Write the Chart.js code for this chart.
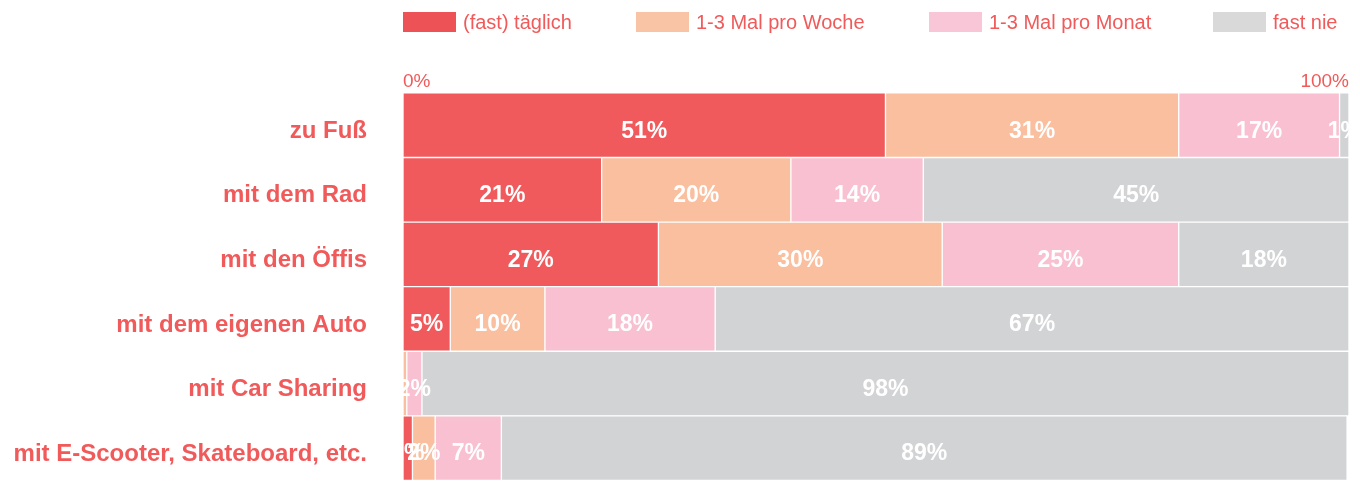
<!DOCTYPE html>
<html>
<head>
<meta charset="utf-8">
<script src="https://cdn.jsdelivr.net/npm/chart.js@4.4.1/dist/chart.umd.min.js"></script>
<style>
  html, body { margin: 0; padding: 0; background: #fff; overflow: hidden; }
  #wrap { position: relative; width: 1360px; height: 481px; }
  #chart { position: absolute; left: 0; top: 0; display: block; width: 1360px; height: 481px; }
  #legend { position: absolute; top: 12px; left: 0; width: 1360px; height: 22px; font-family: "Liberation Sans", Arial, sans-serif; font-size: 20px; color: #f05a5a; z-index: 2; }
  .item { position: absolute; top: 0; display: flex; align-items: center; height: 20px; white-space: nowrap; }
  .box { width: 53px; height: 20px; margin-right: 7px; }
</style>
</head>
<body>
<div id="wrap">
  <canvas id="chart" width="1360" height="481"></canvas>
  <div id="legend"></div>
</div>
<script>
const categories = ['zu Fuß', 'mit dem Rad', 'mit den Öffis', 'mit dem eigenen Auto', 'mit Car Sharing', 'mit E-Scooter, Skateboard, etc.'];
const seriesNames = ['(fast) täglich', '1-3 Mal pro Woche', '1-3 Mal pro Monat', 'fast nie'];
const taeglich = [51, 21, 27, 5, 0, 1];
const woche = [31, 20, 30, 10, 0.4, 2.4];
const monat = [17, 14, 25, 18, 1.6, 7];
const fastNie = [1, 45, 18, 67, 98, 89.4];
const xTicks = [0, 100];

const colors = ['#f05a5c', '#f9bf9f', '#f8c0d0', '#d2d3d5'];
const legendColors = ['#ec5256', '#f9c4a5', '#f8c6d6', '#d9d9d9'];
const legendLeft = [403, 636, 929, 1213];
const textRed = '#f05a5a';

// Legende als HTML
const leg = document.getElementById('legend');
seriesNames.forEach((n, i) => {
  const it = document.createElement('div');
  it.className = 'item';
  it.style.left = legendLeft[i] + 'px';
  it.innerHTML = `<div class="box" style="background:${legendColors[i]}"></div><span>${n}</span>`;
  leg.appendChild(it);
});

// Prozentwerte in die Balken schreiben
const barLabels = {
  id: 'barLabels',
  afterDatasetsDraw(chart) {
    const { ctx, chartArea } = chart;
    ctx.save();
    ctx.beginPath();
    ctx.rect(chartArea.left, chartArea.top, chartArea.right - chartArea.left, chartArea.bottom - chartArea.top);
    ctx.clip();
    ctx.fillStyle = '#fff';
    ctx.font = 'bold 23px "Liberation Sans", Arial, sans-serif';
    ctx.textAlign = 'center';
    ctx.textBaseline = 'middle';
    chart.data.datasets.forEach((ds, di) => {
      chart.getDatasetMeta(di).data.forEach((bar, i) => {
        const v = ds.data[i];
        if (Math.round(v) < 1) return;
        const p = bar.getCenterPoint();
        ctx.fillText(Math.round(v) + '%', p.x, p.y + 6);
      });
    });
    ctx.restore();
  }
};

const seriesData = [taeglich, woche, monat, fastNie];

new Chart(document.getElementById('chart'), {
  type: 'bar',
  data: {
    labels: categories,
    datasets: seriesData.map((d, i) => ({
      label: seriesNames[i],
      data: d,
      backgroundColor: colors[i],
      borderColor: '#fff',
      borderWidth: 1,
      borderSkipped: false,
      barPercentage: 1,
      categoryPercentage: 1
    }))
  },
  options: {
    indexAxis: 'y',
    responsive: false,
    maintainAspectRatio: false,
    animation: false,
    layout: { padding: { top: 70, right: 11, bottom: 0, left: 0 } },
    plugins: { legend: { display: false }, tooltip: { enabled: false } },
    scales: {
      x: {
        stacked: true,
        position: 'top',
        min: 0,
        max: 100,
        afterBuildTicks: s => { s.ticks = xTicks.map(v => ({ value: v })); },
        grid: { display: false, drawTicks: false },
        border: { display: false },
        ticks: {
          align: 'inner',
          padding: 11,
          color: textRed,
          font: { family: '"Liberation Sans", Arial, sans-serif', size: 19, lineHeight: 0.05 },
          callback: v => v + '%'
        }
      },
      y: {
        stacked: true,
        // unsichtbare Ticks als Abstand, damit unten kein Platz verloren geht
        grid: { display: true, drawOnChartArea: false, drawTicks: true, tickLength: 36, color: 'rgba(0,0,0,0)' },
        border: { display: false },
        afterFit: s => { s.width = 403; },
        ticks: {
          padding: 0,
          labelOffset: 6,
          color: textRed,
          font: { family: '"Liberation Sans", Arial, sans-serif', size: 24, weight: 'bold', lineHeight: 0.05 }
        }
      }
    }
  },
  plugins: [barLabels]
});
</script>
</body>
</html>
